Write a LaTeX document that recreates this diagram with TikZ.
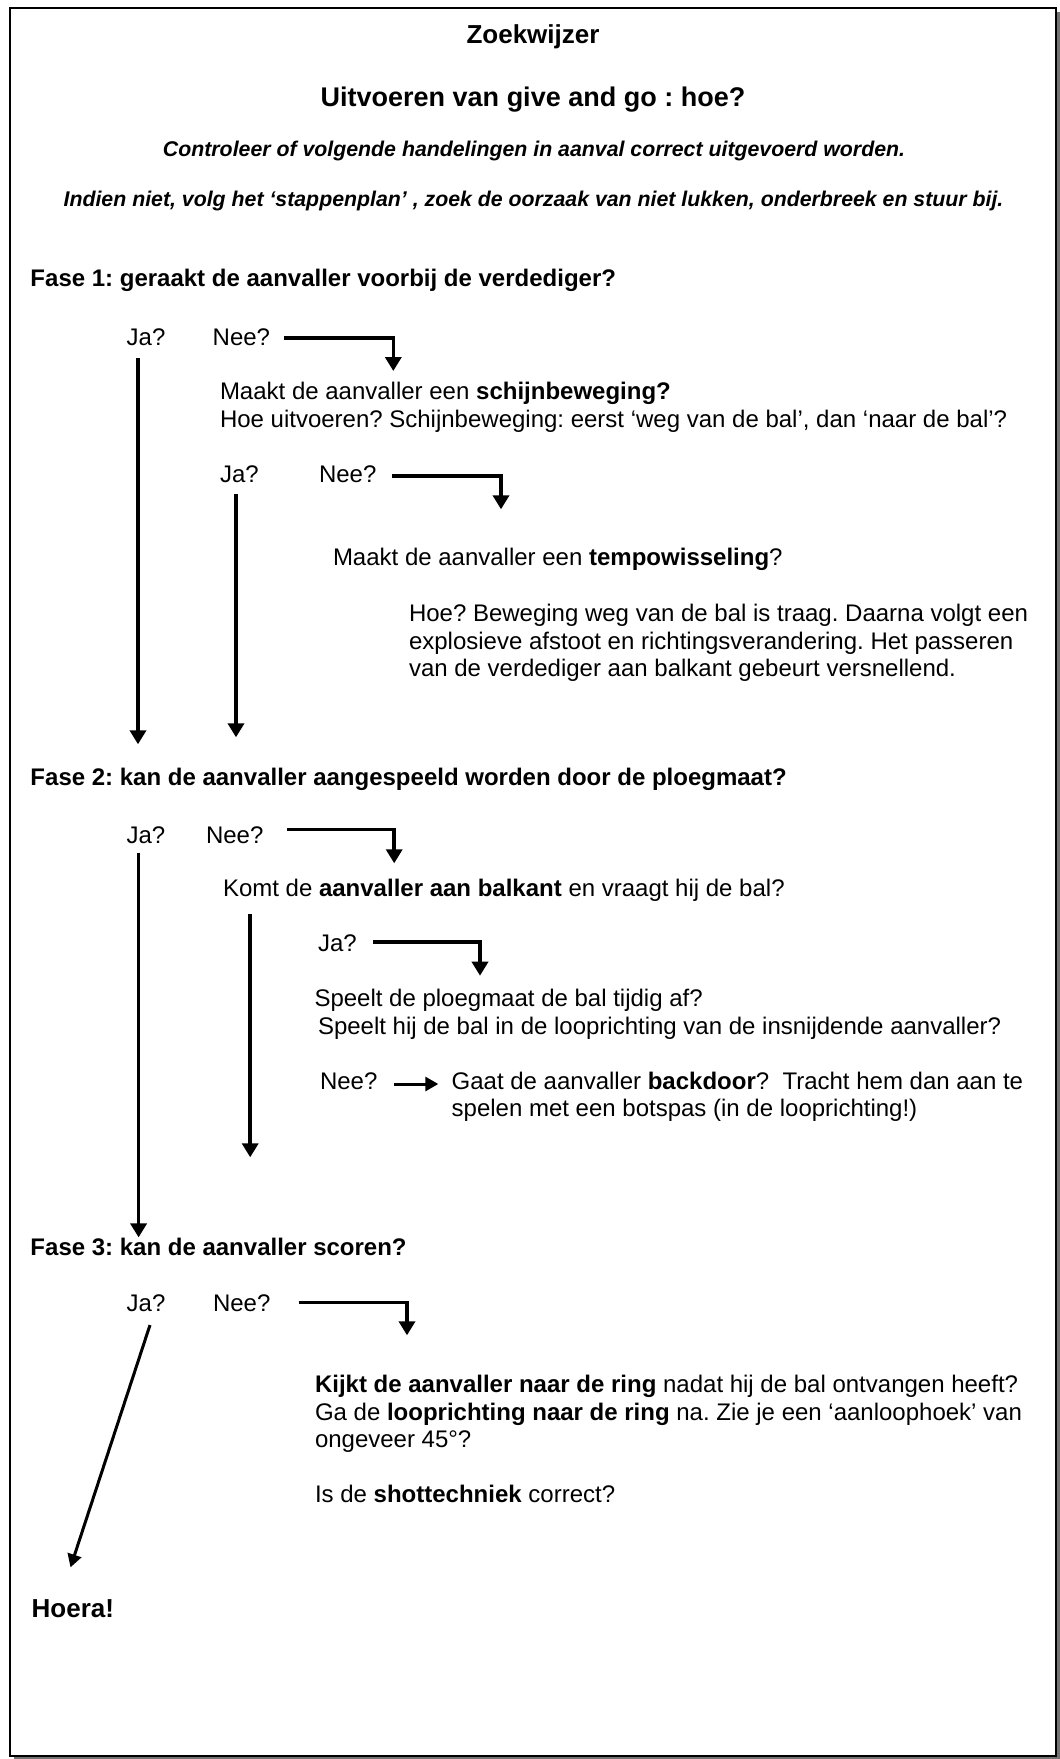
\documentclass[tikz,border=0pt]{standalone}
\usepackage{fontspec}
\setmainfont{Liberation Sans}
\usetikzlibrary{arrows.meta}
\frenchspacing
\begin{document}
\begin{tikzpicture}[x=1pt,y=-1pt,
  txt/.style={anchor=base west,inner sep=0pt,outer sep=0pt,font=\fontsize{24}{27.6}\selectfont},
  fase/.style={txt,font=\fontsize{24}{27.6}\selectfont\bfseries},
  ctr/.style={anchor=base,inner sep=0pt,outer sep=0pt},
  flow/.style={line width=3.6pt,line join=miter,-{Triangle[length=14pt,width=16pt]}},
  slim/.style={line width=3pt,-{Triangle[length=13pt,width=14pt]}}
]
\useasboundingbox (0,0) rectangle (1060,1759);
% frame with shadow
\fill[black!55] (14,12) rectangle (1060,1759.5);
\filldraw[fill=white,draw=black,line width=2pt] (10,7.5) rectangle (1056,1756);

% header
\node[ctr,font=\fontsize{26}{30}\selectfont\bfseries] (title) at (533,43.3) {Zoekwijzer};
\node[ctr,font=\fontsize{27}{31}\selectfont\bfseries] (sub) at (533,106) {Uitvoeren van give and go : hoe?};
\node[ctr,font=\fontsize{21.3}{24.5}\selectfont\bfseries\itshape] (ctl) at (534,156.7) {Controleer of volgende handelingen in aanval correct uitgevoerd worden.};
\node[ctr,font=\fontsize{21.3}{24.5}\selectfont\bfseries\itshape] (ind) at (533.5,206) {Indien niet, volg het ‘stappenplan’ , zoek de oorzaak van niet lukken, onderbreek en stuur bij.};

% Fase 1
\node[fase] (f1) at (30.5,286.7) {Fase 1: geraakt de aanvaller voorbij de verdediger?};
\node[txt] (ja1) at (126.7,345) {Ja?};
\node[txt] (nee1) at (212.7,345) {Nee?};
\node[txt] (q1a) at (220,399.5) {Maakt de aanvaller een \textbf{schijnbeweging?}};
\node[txt] (q1b) at (220,427) {Hoe uitvoeren? Schijnbeweging: eerst ‘weg van de bal’, dan ‘naar de bal’?};
\node[txt] (ja2) at (220,482.7) {Ja?};
\node[txt] (nee2) at (319,482.7) {Nee?};
\node[txt] (q2) at (333,565) {Maakt de aanvaller een \textbf{tempowisseling}?};
\node[txt] (h1) at (409,621.7) {Hoe? Beweging weg van de bal is traag. Daarna volgt een};
\node[txt] (h2) at (409,649.3) {explosieve afstoot en richtingsverandering. Het passeren};
\node[txt] (h3) at (409,676.9) {van de verdediger aan balkant gebeurt versnellend.};

% Fase 2
\node[fase] (f2) at (30.5,785) {Fase 2: kan de aanvaller aangespeeld worden door de ploegmaat?};
\node[txt] (ja3) at (126.5,843.3) {Ja?};
\node[txt] (nee3) at (206,843.3) {Nee?};
\node[txt] (q3) at (223,896.7) {Komt de \textbf{aanvaller aan balkant} en vraagt hij de bal?};
\node[txt] (ja4) at (318,951.7) {Ja?};
\node[txt] (q4a) at (314.5,1006.7) {Speelt de ploegmaat de bal tijdig af?};
\node[txt] (q4b) at (318,1034.3) {Speelt hij de bal in de looprichting van de insnijdende aanvaller?};
\node[txt] (nee4) at (320,1089.3) {Nee?};
\node[txt] (q5a) at (451.7,1089.3) {Gaat de aanvaller \textbf{backdoor}?\ \ Tracht hem dan aan te};
\node[txt] (q5b) at (451.7,1116.9) {spelen met een botspas (in de looprichting!)};

% Fase 3
\node[fase] (f3) at (30.5,1255.3) {Fase 3: kan de aanvaller scoren?};
\node[txt] (ja5) at (126.7,1311.5) {Ja?};
\node[txt] (nee5) at (213,1311.5) {Nee?};
\node[txt] (k1) at (315,1392.7) {\textbf{Kijkt de aanvaller naar de ring} nadat hij de bal ontvangen heeft?};
\node[txt] (k2) at (315,1420.3) {Ga de \textbf{looprichting naar de ring} na. Zie je een ‘aanloophoek’ van};
\node[txt] (k3) at (315,1447.9) {ongeveer 45°?};
\node[txt] (k4) at (315,1502.7) {Is de \textbf{shottechniek} correct?};
\node[txt,font=\fontsize{26}{30}\selectfont\bfseries] (hoera) at (31.7,1617.3) {Hoera!};

% connector end points
\coordinate (a1s) at (284.3,337.7);  \coordinate (a1e) at (393.3,371);
\coordinate (j1s) at (138,358.3);    \coordinate (j1e) at (138,744.3);
\coordinate (a2s) at (392.3,475.7);  \coordinate (a2e) at (501,509.3);
\coordinate (j2s) at (236,494.3);    \coordinate (j2e) at (236,737.3);
\coordinate (a3s) at (287.4,829.3);  \coordinate (a3e) at (394.2,863.3);
\coordinate (j3s) at (138.6,852.7);  \coordinate (j3e) at (138.6,1237.4);
\coordinate (l4s) at (250.2,914);    \coordinate (l4e) at (250.2,1157.3);
\coordinate (a4s) at (373.2,941.7);  \coordinate (a4e) at (480,975.7);
\coordinate (n4s) at (394.3,1084);   \coordinate (n4e) at (438.3,1084);
\coordinate (a5s) at (298.5,1302.5); \coordinate (a5e) at (407,1335.3);
\coordinate (d5s) at (150,1325);     \coordinate (d5e) at (70.5,1567.3);

\draw[flow] (a1s) -| (a1e);
\draw[flow] (j1s) -- (j1e);
\draw[flow] (a2s) -| (a2e);
\draw[flow] (j2s) -- (j2e);
\draw[flow] (a3s) -| (a3e);
\draw[flow] (j3s) -- (j3e);
\draw[flow] (l4s) -- (l4e);
\draw[flow] (a4s) -| (a4e);
\draw[slim] (n4s) -- (n4e);
\draw[flow] (a5s) -| (a5e);
\draw[slim] (d5s) -- (d5e);
\end{tikzpicture}
\end{document}
